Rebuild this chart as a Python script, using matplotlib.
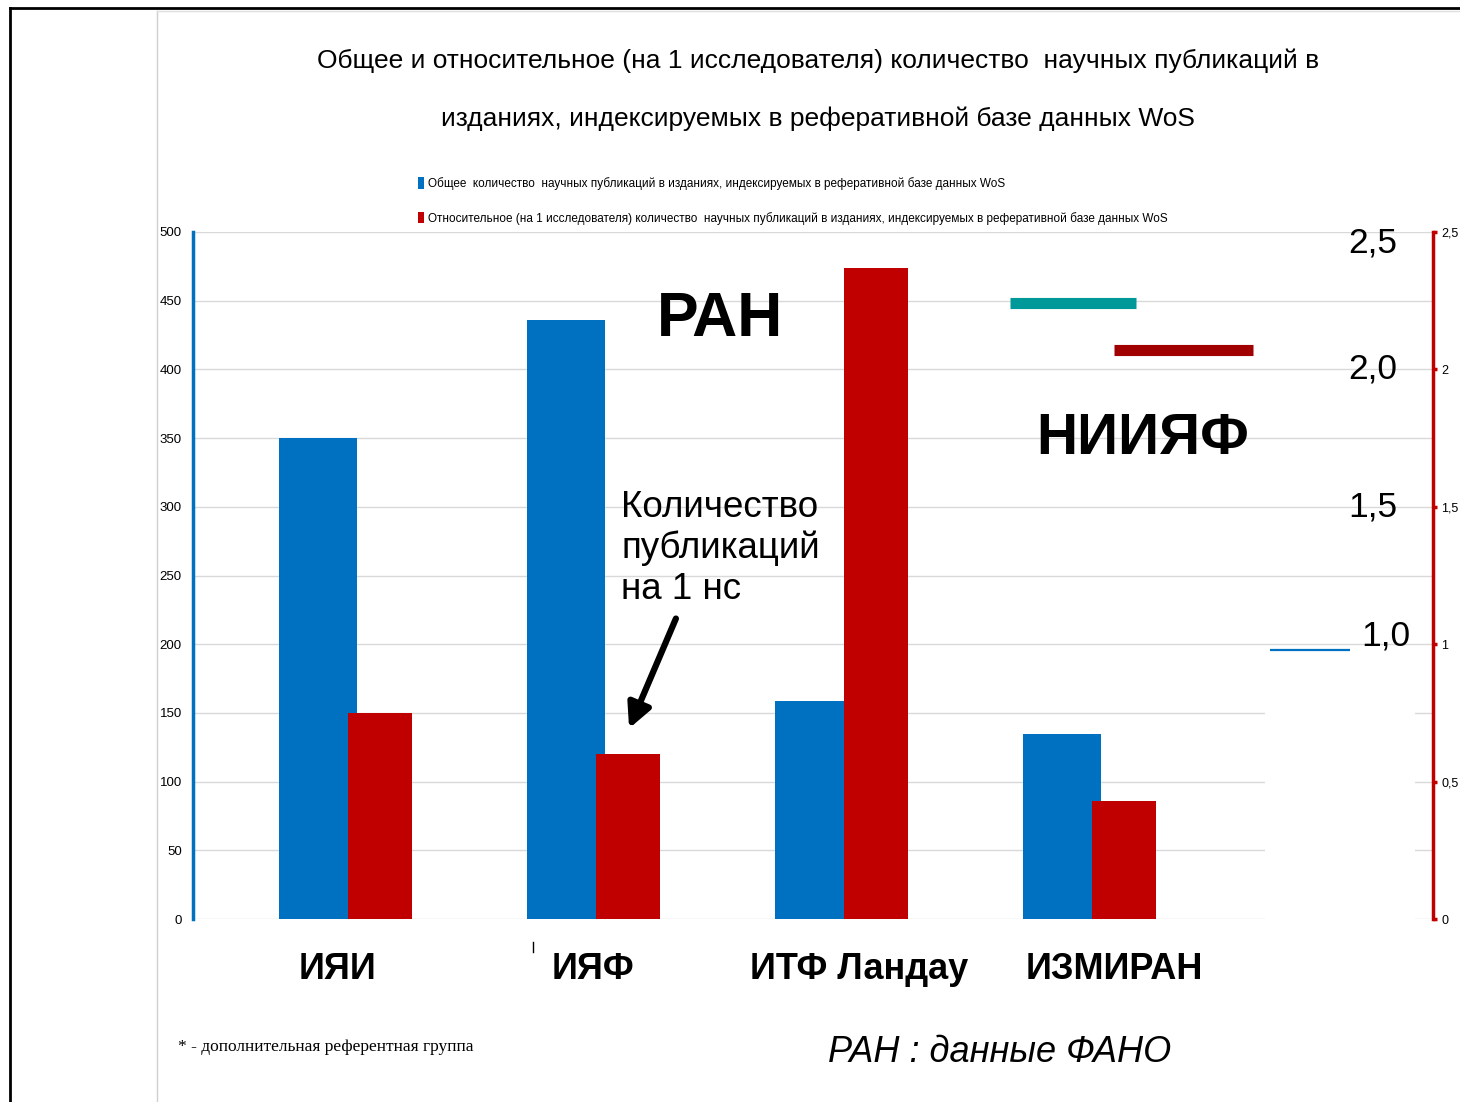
import matplotlib.pyplot as plt
from matplotlib.patches import Rectangle
from matplotlib.lines import Line2D
import numpy as np

# data
institutes = ["ИЯИ", "ИЯФ", "ИТФ Ландау", "ИЗМИРАН"]
total_pubs = [350, 436, 159, 135]          # left axis
pubs_per_researcher = [0.75, 0.60, 2.37, 0.43]  # right axis
ran_level = 2.24      # teal line "РАН"
niiyaf_level = 2.07   # dark red line "НИИЯФ"
base_level = 0.98     # thin blue line
scale_labels = ["2,5", "2,0", "1,5", "1,0"]
scale_values = [2.46, 2.0, 1.5, 1.03]
left_ticks = list(range(0, 501, 50))
right_ticks = [0, 0.5, 1, 1.5, 2, 2.5]
right_ticklabels = ["0", "0,5", "1", "1,5", "2", "2,5"]

title = ("Общее и относительное (на 1 исследователя) количество  научных публикаций в\n"
         "изданиях, индексируемых в реферативной базе данных WoS")
legend_labels = [
    "Общее  количество  научных публикаций в изданиях, индексируемых в реферативной базе данных WoS",
    "Относительное (на 1 исследователя) количество  научных публикаций в изданиях, индексируемых в реферативной базе данных WoS",
]

BLUE = "#0070C0"
RED = "#C00000"
ARIAL = ["Liberation Sans", "DejaVu Sans"]
SERIF = ["Liberation Serif", "DejaVu Serif"]

W, H = 1460, 1102
fig = plt.figure(figsize=(W / 100, H / 100), dpi=100)
fig.patch.set_facecolor("white")


def fx(px):
    return px / W


def fy(py):
    return 1 - py / H


# slide frame
fig.add_artist(Line2D([fx(10), 1], [fy(8), fy(8)], color="black", lw=2))
fig.add_artist(Line2D([fx(10), fx(10)], [fy(8), 0], color="black", lw=2))
fig.add_artist(Line2D([fx(157), fx(157)], [fy(11), 0], color="#d0d0d0", lw=1))
fig.add_artist(Line2D([fx(157), 1], [fy(11), fy(11)], color="#e0e0e0", lw=1))

ax = fig.add_axes([fx(193), fy(919), fx(1433) - fx(193), fy(232) - fy(919)])
ax2 = ax.twinx()

x = np.arange(len(institutes))
b1 = ax.bar(x, total_pubs, width=0.315, color=BLUE, zorder=3,
            label=legend_labels[0])
b2 = ax2.bar(x + 0.25, pubs_per_researcher, width=0.255, color=RED, zorder=3,
             label=legend_labels[1])

ax.set_xlim(-0.504, 4.496)
ax.set_ylim(0, 500)
ax2.set_ylim(0, 2.5)

ax.set_yticks(left_ticks)
ax.set_yticklabels([str(v) for v in left_ticks], fontfamily=ARIAL, fontsize=9.5)
ax.tick_params(axis="y", length=0, pad=8)
ax.grid(axis="y", color="#d9d9d9", lw=1, zorder=0)
ax.set_axisbelow(True)

ax.set_xticks(x + np.array([0.077, 0.11, 0.18, 0.21]))
ax.set_xticklabels(institutes, fontfamily=ARIAL, fontsize=26, fontweight="bold")
ax.tick_params(axis="x", length=0, pad=24)

for s in ["top", "right", "bottom"]:
    ax.spines[s].set_visible(False)
ax.spines["left"].set_color(BLUE)
ax.spines["left"].set_linewidth(2.5)

for s in ["top", "left", "bottom"]:
    ax2.spines[s].set_visible(False)
ax2.spines["right"].set_color(RED)
ax2.spines["right"].set_linewidth(2.5)
ax2.set_yticks(right_ticks)
ax2.set_yticklabels(right_ticklabels, fontfamily=ARIAL, fontsize=9)
ax2.tick_params(axis="y", colors=RED, length=3, width=2.5, pad=3,
                labelcolor="black")

# white patch hiding gridlines under the "1,0" mark
ax2.add_patch(Rectangle((fx(1265), fy(928)), fx(1415) - fx(1265), fy(648) - fy(928),
                        transform=fig.transFigure, facecolor="white",
                        edgecolor="none", zorder=5))

# reference levels
ax2.hlines(ran_level, 2.79, 3.30, color="#009999", lw=8, zorder=6)
ax2.hlines(niiyaf_level, 3.21, 3.77, color="#A00000", lw=8, zorder=6)
ax2.hlines(base_level, 3.84, 4.16, color=BLUE, lw=1.6, zorder=7)

for lab, val, xc in zip(scale_labels, scale_values, [1373, 1373, 1373, 1386]):
    fig.text(fx(xc), ax2.transData.transform((0, val))[1] / H, lab,
             ha="center", va="center", fontsize=25.5, family=ARIAL, zorder=8)

fig.text(fx(720), fy(320), "РАН", ha="center", va="center", fontsize=45,
         fontweight="bold", family=ARIAL)
fig.text(fx(1143), fy(439), "НИИЯФ", ha="center", va="center", fontsize=41,
         fontweight="bold", family=ARIAL, zorder=8)
fig.text(fx(621), fy(490), "Количество\nпубликаций\nна 1 нс", ha="left", va="top",
         fontsize=26.5, family=ARIAL, linespacing=1.2)
fig.add_artist(Line2D([fx(533), fx(533)], [fy(942), fy(952)], color="black", lw=1))
ax.annotate("", xy=(fx(628), fy(731)), xytext=(fx(677), fy(616)),
            xycoords="figure fraction", textcoords="figure fraction",
            arrowprops=dict(arrowstyle="-|>", lw=4.5, mutation_scale=36, color="black"))

fig.text(fx(818), fy(90), title, ha="center", va="center", fontsize=19,
         family=ARIAL, linespacing=2.7)

fig.legend(handles=[b1, b2], labels=legend_labels, loc="upper left",
           bbox_to_anchor=(fx(418), fy(177)), frameon=False,
           prop={"family": ARIAL, "size": 8.5}, handlelength=0.55,
           handleheight=1.1, handletextpad=0.3, labelspacing=1.85,
           borderaxespad=0, borderpad=0)

fig.text(fx(178), fy(1047), "* - дополнительная референтная группа", ha="left",
         va="center", fontsize=12.5, family=SERIF)
fig.text(fx(1000), fy(1053), "РАН : данные ФАНО", ha="center", va="center",
         fontsize=26, style="italic", family=ARIAL)

fig.savefig("out.png", dpi=100)
